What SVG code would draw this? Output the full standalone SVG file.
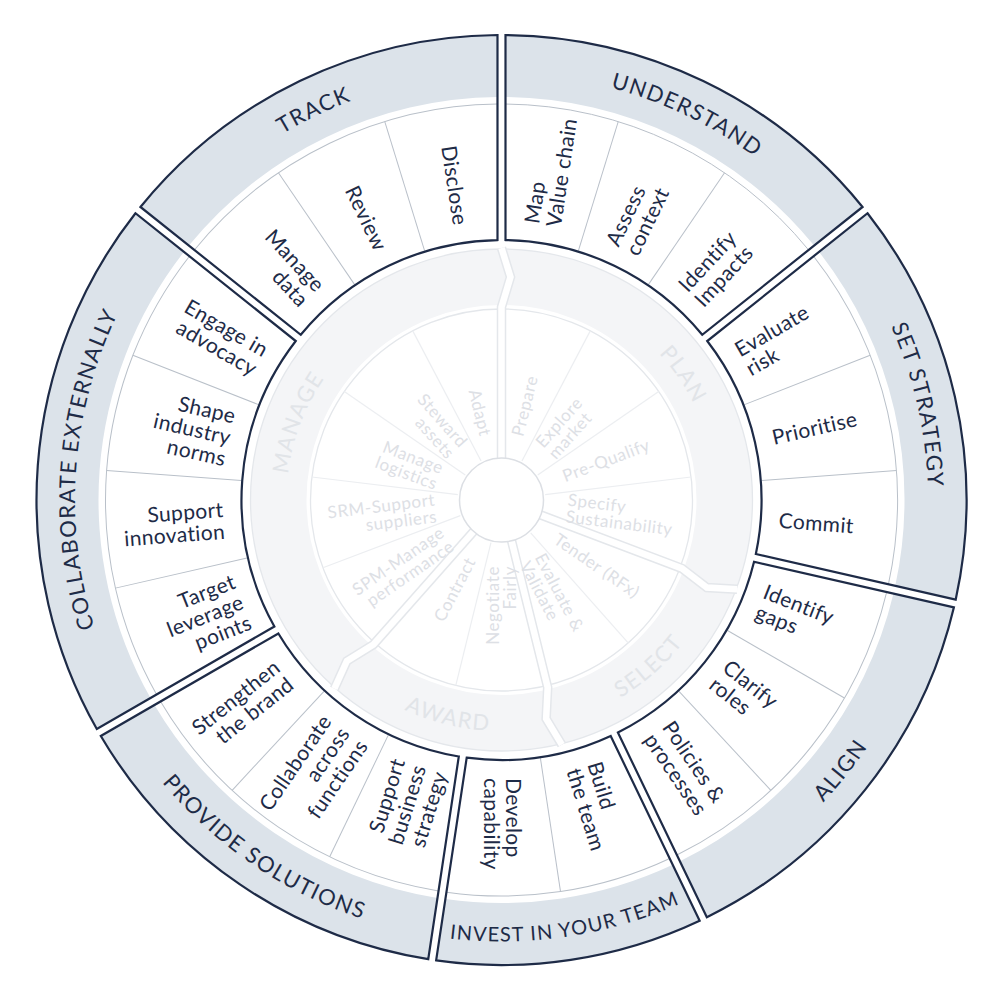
<svg xmlns="http://www.w3.org/2000/svg" width="1000" height="1000" viewBox="0 0 1000 1000">
<style>
text{font-family:Lato,"Noto Sans","Liberation Sans",sans-serif}
.outline{fill:none;stroke:#1e2b47;stroke-width:2.2}
.bandf{fill:#dce3ea}
.thin{fill:none;stroke:#b9c0c9;stroke-width:1}
.div{stroke:#b9c0c9;stroke-width:1}
.cell{font-size:21px;fill:#1e2b47;letter-spacing:0.4px}
.lbl{font-size:22px;fill:#1e2b47;letter-spacing:1.4px}
.iline{fill:none;stroke:#e4e7eb;stroke-width:1.3}
.idiv{stroke:#eceef1;stroke-width:1.2}
.icell{font-size:17px;fill:#dde0e5;letter-spacing:0.6px}
.stg{font-size:22px;fill:#e1e4e8;letter-spacing:1.5px}
.chan{fill:none;stroke:#e4e7eb;stroke-width:9.5}
.chanw{fill:none;stroke:#fff;stroke-width:6.5}
</style>
<defs>
<path id="s3o" d="M4,-464.98A465,465 0 0,1 361.04,-293.04L200.76,-165.22A260,260 0 0,0 4,-259.97Z"/>
<path id="s3b" d="M4,-464.98A465,465 0 0,1 361.04,-293.04L312.57,-254.38A403,403 0 0,0 4,-402.98Z"/>
<path id="s3t" d="M4,-395.98A396,396 0 0,1 307.10,-250.02"/>
<path id="s2o" d="M4,-464.98A465,465 0 0,1 258.63,-386.44L143.14,-217.05A260,260 0 0,0 4,-259.97Z"/>
<path id="s2b" d="M4,-464.98A465,465 0 0,1 258.63,-386.44L223.70,-335.21A403,403 0 0,0 4,-402.98Z"/>
<path id="s2t" d="M4,-395.98A396,396 0 0,1 219.76,-329.43"/>
<path id="s4o" d="M4,-464.98A465,465 0 0,1 431.38,-173.60L240.54,-98.70A260,260 0 0,0 4,-259.97Z"/>
<path id="s4b" d="M4,-464.98A465,465 0 0,1 431.38,-173.60L373.66,-150.95A403,403 0 0,0 4,-402.98Z"/>
<path id="s4t" d="M4,-395.98A396,396 0 0,1 367.15,-148.39"/>
<path id="ocw" d="M0,-426.5A426.5,426.5 0 1,1 0,426.5A426.5,426.5 0 1,1 0,-426.5"/>
<path id="occw" d="M0,-441.5A441.5,441.5 0 1,0 0,441.5A441.5,441.5 0 1,0 0,-441.5"/>
<path id="icw" d="M0,-215A215,215 0 1,1 0,215A215,215 0 1,1 0,-215"/>
<path id="iccw" d="M0,-231A231,231 0 1,0 0,231A231,231 0 1,0 0,-231"/>
<polyline id="chv" points="0,-40 0,-193 9,-223 0,-252"/>
<line id="odv" x1="0" y1="-261" x2="0" y2="-396"/>
<line id="idv" x1="0" y1="-44" x2="0" y2="-191"/>
</defs>
<rect width="1000" height="1000" fill="#fff"/>
<g transform="translate(501.5,500)">

<!-- inner wheel base -->
<g id="inner-wheel">
<circle r="223" fill="none" stroke="#f4f5f7" stroke-width="56"/>
<circle r="251" class="iline"/>
<circle r="191" class="iline"/>
<g class="idiv">
<use href="#idv" transform="rotate(27.692)"/>
<use href="#idv" transform="rotate(55.385)"/>
<use href="#idv" transform="rotate(83.077)"/>
<use href="#idv" transform="rotate(138.462)"/>
<use href="#idv" transform="rotate(193.846)"/>
<use href="#idv" transform="rotate(249.231)"/>
<use href="#idv" transform="rotate(276.923)"/>
<use href="#idv" transform="rotate(304.615)"/>
<use href="#idv" transform="rotate(332.308)"/>
</g>
</g>

<g id="connectors">
<g class="chan">
<use href="#chv"/>
<use href="#chv" transform="rotate(110.769)"/>
<use href="#chv" transform="rotate(166.154)"/>
<use href="#chv" transform="rotate(221.538)"/>
</g>
<g class="chanw">
<use href="#chv"/>
<use href="#chv" transform="rotate(110.769)"/>
<use href="#chv" transform="rotate(166.154)"/>
<use href="#chv" transform="rotate(221.538)"/>
</g>
</g>

<g id="hub"><circle r="42" fill="#fff" stroke="#dcdfe4" stroke-width="1.5"/></g>

<g id="stage-plan">
<text class="stg" text-anchor="middle"><textPath href="#icw" startOffset="15.38%">PLAN</textPath></text>
<text class="icell" transform="rotate(13.846) translate(0,-66) rotate(-90)"><tspan x="0" y="6">Prepare</tspan></text>
<text class="icell" transform="rotate(41.538) translate(0,-66) rotate(-90)"><tspan x="0" y="-2.5">Explore</tspan><tspan x="0" y="14.5">market</tspan></text>
<text class="icell" transform="rotate(69.231) translate(0,-66) rotate(-90)"><tspan x="0" y="6">Pre-Qualify</tspan></text>
<text class="icell" transform="rotate(96.923) translate(0,-66) rotate(-90)"><tspan x="0" y="-2.5">Specify</tspan><tspan x="0" y="14.5">Sustainability</tspan></text>
</g>
<g id="stage-select">
<text class="stg" text-anchor="middle"><textPath href="#iccw" startOffset="61.54%">SELECT</textPath></text>
<text class="icell" transform="rotate(124.615) translate(0,-66) rotate(-90)"><tspan x="0" y="6">Tender (RFx)</tspan></text>
<text class="icell" transform="rotate(152.308) translate(0,-66) rotate(-90)"><tspan x="0" y="-2.5">Evaluate &amp;</tspan><tspan x="0" y="14.5">Validate</tspan></text>
</g>
<g id="stage-award">
<text class="stg" text-anchor="middle"><textPath href="#iccw" startOffset="46.15%">AWARD</textPath></text>
<text class="icell" text-anchor="end" transform="rotate(180) translate(0,-66) rotate(90)"><tspan x="0" y="-2.5">Negotiate</tspan><tspan x="0" y="14.5">Fairly</tspan></text>
<text class="icell" text-anchor="end" transform="rotate(207.692) translate(0,-66) rotate(90)"><tspan x="0" y="6">Contract</tspan></text>
</g>
<g id="stage-manage">
<text class="stg" text-anchor="middle"><textPath href="#icw" startOffset="80.77%">MANAGE</textPath></text>
<text class="icell" text-anchor="end" transform="rotate(235.385) translate(0,-66) rotate(90)"><tspan x="0" y="-2.5">SPM-Manage</tspan><tspan x="0" y="14.5">performance</tspan></text>
<text class="icell" text-anchor="end" transform="rotate(263.077) translate(0,-66) rotate(90)"><tspan x="0" y="-2.5">SRM-Support</tspan><tspan x="0" y="14.5">suppliers</tspan></text>
<text class="icell" text-anchor="end" transform="rotate(290.769) translate(0,-66) rotate(90)"><tspan x="0" y="-2.5">Manage</tspan><tspan x="0" y="14.5">logistics</tspan></text>
<text class="icell" text-anchor="end" transform="rotate(318.462) translate(0,-66) rotate(90)"><tspan x="0" y="-2.5">Steward</tspan><tspan x="0" y="14.5">assets</tspan></text>
<text class="icell" text-anchor="end" transform="rotate(346.154) translate(0,-66) rotate(90)"><tspan x="0" y="6">Adapt</tspan></text>
</g>

<!-- outer sections -->
<g id="understand">
<g transform="rotate(0)">
<use href="#s3b" class="bandf"/><use href="#s3t" class="thin"/>
<use href="#odv" class="div" transform="rotate(17.143)"/><use href="#odv" class="div" transform="rotate(34.286)"/>
<use href="#s3o" class="outline"/>
</g>
<text class="lbl" text-anchor="middle"><textPath href="#ocw" startOffset="7.14%">UNDERSTAND</textPath></text>
<text class="cell" transform="rotate(8.571) translate(0,-278) rotate(-90)"><tspan x="0" y="-4">Map</tspan><tspan x="0" y="18">Value chain</tspan></text>
<text class="cell" transform="rotate(25.714) translate(0,-278) rotate(-90)"><tspan x="0" y="-4">Assess</tspan><tspan x="0" y="18">context</tspan></text>
<text class="cell" transform="rotate(42.857) translate(0,-278) rotate(-90)"><tspan x="0" y="-4">Identify</tspan><tspan x="0" y="18">Impacts</tspan></text>
</g>

<g id="set-strategy">
<g transform="rotate(51.429)">
<use href="#s3b" class="bandf"/><use href="#s3t" class="thin"/>
<use href="#odv" class="div" transform="rotate(17.143)"/><use href="#odv" class="div" transform="rotate(34.286)"/>
<use href="#s3o" class="outline"/>
</g>
<text class="lbl" text-anchor="middle"><textPath href="#ocw" startOffset="21.43%">SET STRATEGY</textPath></text>
<text class="cell" transform="rotate(60) translate(0,-278) rotate(-90)"><tspan x="0" y="-4">Evaluate</tspan><tspan x="0" y="18">risk</tspan></text>
<text class="cell" transform="rotate(77.143) translate(0,-278) rotate(-90)"><tspan x="0" y="7">Prioritise</tspan></text>
<text class="cell" transform="rotate(94.286) translate(0,-278) rotate(-90)"><tspan x="0" y="7">Commit</tspan></text>
</g>

<g id="align">
<g transform="rotate(102.857)">
<use href="#s3b" class="bandf"/><use href="#s3t" class="thin"/>
<use href="#odv" class="div" transform="rotate(17.143)"/><use href="#odv" class="div" transform="rotate(34.286)"/>
<use href="#s3o" class="outline"/>
</g>
<text class="lbl" text-anchor="middle"><textPath href="#occw" startOffset="64.29%">ALIGN</textPath></text>
<text class="cell" transform="rotate(111.429) translate(0,-278) rotate(-90)"><tspan x="0" y="-4">Identify</tspan><tspan x="0" y="18">gaps</tspan></text>
<text class="cell" transform="rotate(128.571) translate(0,-278) rotate(-90)"><tspan x="0" y="-4">Clarify</tspan><tspan x="0" y="18">roles</tspan></text>
<text class="cell" transform="rotate(145.714) translate(0,-278) rotate(-90)"><tspan x="0" y="-4">Policies &amp;</tspan><tspan x="0" y="18">processes</tspan></text>
</g>

<g id="invest-in-your-team">
<g transform="rotate(154.286)">
<use href="#s2b" class="bandf"/><use href="#s2t" class="thin"/>
<use href="#odv" class="div" transform="rotate(17.143)"/>
<use href="#s2o" class="outline"/>
</g>
<text class="lbl" text-anchor="middle" style="font-size:20px;letter-spacing:1.2px"><textPath href="#occw" startOffset="52.38%">INVEST IN YOUR TEAM</textPath></text>
<text class="cell" transform="rotate(162.857) translate(0,-278) rotate(-90)"><tspan x="0" y="-4">Build</tspan><tspan x="0" y="18">the team</tspan></text>
<text class="cell" transform="rotate(180) translate(0,-278) rotate(-90)"><tspan x="0" y="-4">Develop</tspan><tspan x="0" y="18">capability</tspan></text>
</g>

<g id="provide-solutions">
<g transform="rotate(188.571)">
<use href="#s3b" class="bandf"/><use href="#s3t" class="thin"/>
<use href="#odv" class="div" transform="rotate(17.143)"/><use href="#odv" class="div" transform="rotate(34.286)"/>
<use href="#s3o" class="outline"/>
</g>
<text class="lbl" text-anchor="middle"><textPath href="#occw" startOffset="40.48%">PROVIDE SOLUTIONS</textPath></text>
<text class="cell" text-anchor="end" transform="rotate(197.143) translate(0,-278) rotate(90)"><tspan x="0" y="-15">Support</tspan><tspan x="0" y="7">business</tspan><tspan x="0" y="29">strategy</tspan></text>
<text class="cell" text-anchor="end" transform="rotate(214.286) translate(0,-278) rotate(90)"><tspan x="0" y="-15">Collaborate</tspan><tspan x="0" y="7">across</tspan><tspan x="0" y="29">functions</tspan></text>
<text class="cell" text-anchor="end" transform="rotate(231.429) translate(0,-278) rotate(90)"><tspan x="0" y="-4">Strengthen</tspan><tspan x="0" y="18">the brand</tspan></text>
</g>

<g id="collaborate-externally">
<g transform="rotate(240)">
<use href="#s4b" class="bandf"/><use href="#s4t" class="thin"/>
<use href="#odv" class="div" transform="rotate(17.143)"/><use href="#odv" class="div" transform="rotate(34.286)"/><use href="#odv" class="div" transform="rotate(51.429)"/>
<use href="#s4o" class="outline"/>
</g>
<text class="lbl" text-anchor="middle"><textPath href="#ocw" startOffset="76.19%">COLLABORATE EXTERNALLY</textPath></text>
<text class="cell" text-anchor="end" transform="rotate(248.571) translate(0,-278) rotate(90)"><tspan x="0" y="-15">Target</tspan><tspan x="0" y="7">leverage</tspan><tspan x="0" y="29">points</tspan></text>
<text class="cell" text-anchor="end" transform="rotate(265.714) translate(0,-278) rotate(90)"><tspan x="0" y="-4">Support</tspan><tspan x="0" y="18">innovation</tspan></text>
<text class="cell" text-anchor="end" transform="rotate(282.857) translate(0,-278) rotate(90)"><tspan x="0" y="-15">Shape</tspan><tspan x="0" y="7">industry</tspan><tspan x="0" y="29">norms</tspan></text>
<text class="cell" text-anchor="end" transform="rotate(300) translate(0,-278) rotate(90)"><tspan x="0" y="-4">Engage in</tspan><tspan x="0" y="18">advocacy</tspan></text>
</g>

<g id="track">
<g transform="rotate(308.571)">
<use href="#s3b" class="bandf"/><use href="#s3t" class="thin"/>
<use href="#odv" class="div" transform="rotate(17.143)"/><use href="#odv" class="div" transform="rotate(34.286)"/>
<use href="#s3o" class="outline"/>
</g>
<text class="lbl" text-anchor="middle"><textPath href="#ocw" startOffset="92.86%">TRACK</textPath></text>
<text class="cell" text-anchor="end" transform="rotate(317.143) translate(0,-278) rotate(90)"><tspan x="0" y="-4">Manage</tspan><tspan x="0" y="18">data</tspan></text>
<text class="cell" text-anchor="end" transform="rotate(334.286) translate(0,-278) rotate(90)"><tspan x="0" y="7">Review</tspan></text>
<text class="cell" text-anchor="end" transform="rotate(351.429) translate(0,-278) rotate(90)"><tspan x="0" y="7">Disclose</tspan></text>
</g>

</g>
</svg>
